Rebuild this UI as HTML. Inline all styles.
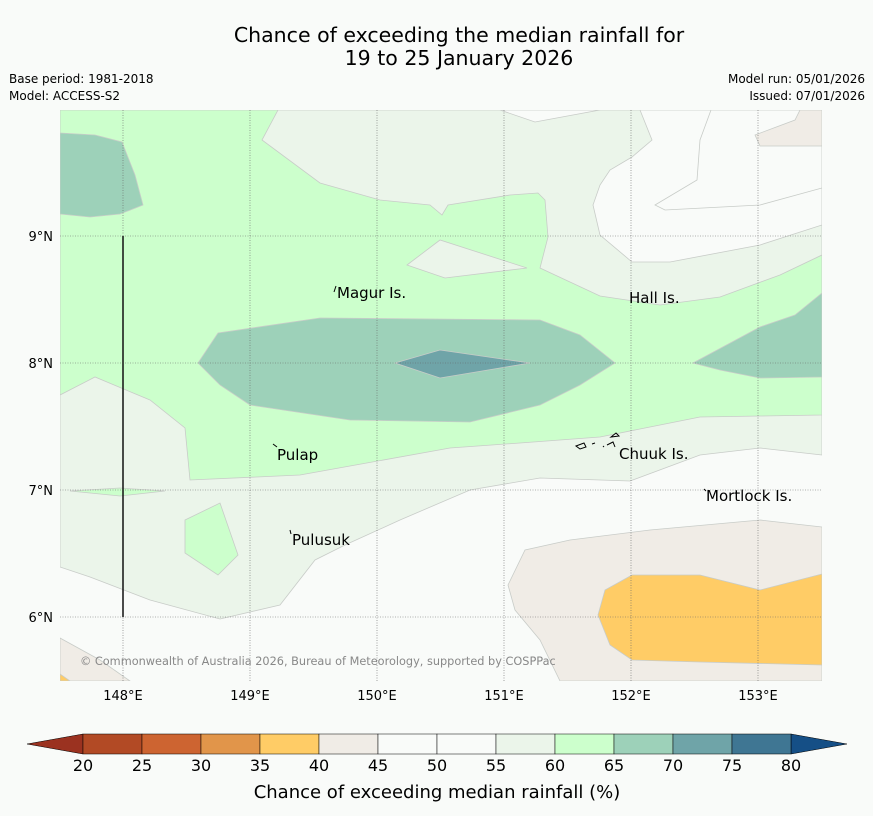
<!DOCTYPE html>
<html><head><meta charset="utf-8"><style>
body{margin:0;background:#f9fbf9;font-family:"DejaVu Sans","Liberation Sans",sans-serif;}
svg{display:block}
</style></head><body>
<svg width="873" height="816" viewBox="0 0 873 816">
<rect width="873" height="816" fill="#f9fbf9"/>
<text x="459" y="42" font-size="20.5" text-anchor="middle" fill="#000">Chance of exceeding the median rainfall for</text>
<text x="459" y="65" font-size="20.5" text-anchor="middle" fill="#000">19 to 25 January 2026</text>
<text x="9" y="83" font-size="12">Base period: 1981-2018</text>
<text x="9" y="100" font-size="12">Model: ACCESS-S2</text>
<text x="865" y="83" font-size="12" text-anchor="end">Model run: 05/01/2026</text>
<text x="865" y="100" font-size="12" text-anchor="end">Issued: 07/01/2026</text>
<defs><clipPath id="mc"><rect x="60" y="110" width="762" height="571"/></clipPath></defs>
<g clip-path="url(#mc)" stroke="#c8ccc8" stroke-width="0.8">
<rect x="60" y="110" width="762" height="571" fill="#f9fbf9" stroke="none"/>
<polygon fill="#ebf5ea" points="60,110 822,110 822,455 760,448 700,455 630,481 540,478 470,490 400,520 345,545 315,560 280,605 220,619 150,600 90,577 60,567"/>
<polygon fill="#f9fbf9" points="500,110 535,122 600,110"/>
<polygon fill="#f9fbf9" points="640,110 652,140 632,157 610,170 600,185 593,205 600,235 632,262 670,262 760,245 822,225 822,110"/>
<polyline fill="none" points="711,110 700,140 697,180 655,205 665,210 760,205 822,188"/>
<polygon fill="#ccffcc" points="60,110 278,110 262,140 320,183 380,200 430,205 442,215 448,205 510,195 538,193 545,200 548,237 540,268 600,296 660,305 720,297 780,275 822,255 822,415 760,416 700,417 660,425 600,437 520,443 450,448 300,475 190,480 185,428 150,400 95,377 60,395"/>
<polygon fill="#ebf5ea" points="407,265 440,240 527,268 445,278"/>
<polygon fill="#ccffcc" points="70,491 120,488 165,491 120,496"/>
<polygon fill="#ccffcc" points="185,520 220,503 238,555 218,575 185,553"/>
<polygon fill="#9dd1b9" points="60,133 95,135 122,142 135,175 143,205 120,214 90,217 60,214"/>
<polygon fill="#9dd1b9" points="198,363 218,333 320,318 540,320 580,335 615,363 580,385 540,405 470,422 350,420 250,405 220,385"/>
<polygon fill="#9dd1b9" points="693,363 760,327 795,315 822,293 822,377 760,378 720,370"/>
<polygon fill="#6fa4a8" points="395,363 440,350 530,363 440,378"/>
<polygon fill="#f0ece6" points="755,135 795,120 800,110 822,110 822,146 760,146"/>
<polygon fill="#f0ece6" points="508,585 525,550 570,540 650,530 760,520 822,527 822,681 560,681 540,640 515,610"/>
<polygon fill="#f0ece6" points="60,638 100,660 130,681 60,681"/>
<polygon fill="#ffcc66" points="598,615 605,590 632,575 700,575 760,590 822,574 822,665 700,662 632,660 610,645"/>
<polygon fill="#ffcc66" points="60,674 70,681 60,681"/>
<g stroke="#666" stroke-width="0.6" stroke-dasharray="1,1.5" fill="none">
<line x1="123" y1="110" x2="123" y2="681"/><line x1="250" y1="110" x2="250" y2="681"/><line x1="377" y1="110" x2="377" y2="681"/><line x1="504" y1="110" x2="504" y2="681"/><line x1="631" y1="110" x2="631" y2="681"/><line x1="758" y1="110" x2="758" y2="681"/>
<line x1="60" y1="236" x2="822" y2="236"/><line x1="60" y1="363" x2="822" y2="363"/><line x1="60" y1="490" x2="822" y2="490"/><line x1="60" y1="617" x2="822" y2="617"/>
</g>
<line x1="123" y1="236" x2="123" y2="617" stroke="#111" stroke-width="1.5"/>
</g>
<g font-size="15" fill="#000">
<text x="337" y="298">Magur Is.</text><text x="629" y="303">Hall Is.</text><text x="277" y="460">Pulap</text><text x="619" y="459">Chuuk Is.</text><text x="706" y="501">Mortlock Is.</text><text x="292" y="545">Pulusuk</text>
</g>
<g stroke="#000" stroke-width="1" fill="none">
<path d="M334,292 l2,-6"/><path d="M273,444 l4,3"/><path d="M290,530 l1,4"/><path d="M576,446 l8,-3 l2,4 l-6,2z M592,444 l3,-1 M603,446 l1,1 M607,445 l6,-3 l2,5 M611,437 l5,-4 l3,3z"/><path d="M704,489 l2,2"/>
</g>
<text x="80" y="665" font-size="11.3" fill="#888">© Commonwealth of Australia 2026, Bureau of Meteorology, supported by COSPPac</text>
<g font-size="13" fill="#000">
<text x="123" y="700" text-anchor="middle">148°E</text><text x="250" y="700" text-anchor="middle">149°E</text><text x="377" y="700" text-anchor="middle">150°E</text><text x="504" y="700" text-anchor="middle">151°E</text><text x="631" y="700" text-anchor="middle">152°E</text><text x="758" y="700" text-anchor="middle">153°E</text>
<text x="53" y="241" text-anchor="end">9°N</text><text x="53" y="368" text-anchor="end">8°N</text><text x="53" y="495" text-anchor="end">7°N</text><text x="53" y="622" text-anchor="end">6°N</text>
</g>
<g id="cb"></g>
<text x="437" y="798" font-size="18" text-anchor="middle">Chance of exceeding median rainfall (%)</text>
<script>
const cbTicks=[20,25,30,35,40,45,50,55,60,65,70,75,80];
const cbColors=["#b24a25","#cd6431","#e1954a","#ffcc66","#f0ece6","#f9fbf9","#f9fbf9","#ebf5ea","#ccffcc","#9dd1b9","#6fa4a8","#3f7693"];
const g=document.getElementById('cb');const ns="http://www.w3.org/2000/svg";
const x0=83,x1=791,y0=734,h=20;const sx=v=>x0+(v-20)/60*(x1-x0);
function mk(t,a){const e=document.createElementNS(ns,t);for(const k in a)e.setAttribute(k,a[k]);g.appendChild(e);return e;}
let l=mk('polygon',{points:`${x0},${y0} ${x0},${y0+h} 27,${y0+h/2}`,fill:'#9b3220',stroke:'#000','stroke-width':0.5});


let r=mk('polygon',{points:`${x1},${y0} ${x1},${y0+h} 847,${y0+h/2}`,fill:'#154f86',stroke:'#000','stroke-width':0.5});


cbColors.forEach((c,i)=>{const a=sx(cbTicks[i]),b=sx(cbTicks[i+1]);
const e=mk('rect',{x:a,y:y0,width:b-a,height:h,fill:c,stroke:'#000','stroke-width':0.5});

});
cbTicks.forEach(v=>{const t=mk('text',{x:sx(v),y:771,'font-size':16,'text-anchor':'middle'});t.textContent=v;

});
</script>
</svg>
</body></html>
